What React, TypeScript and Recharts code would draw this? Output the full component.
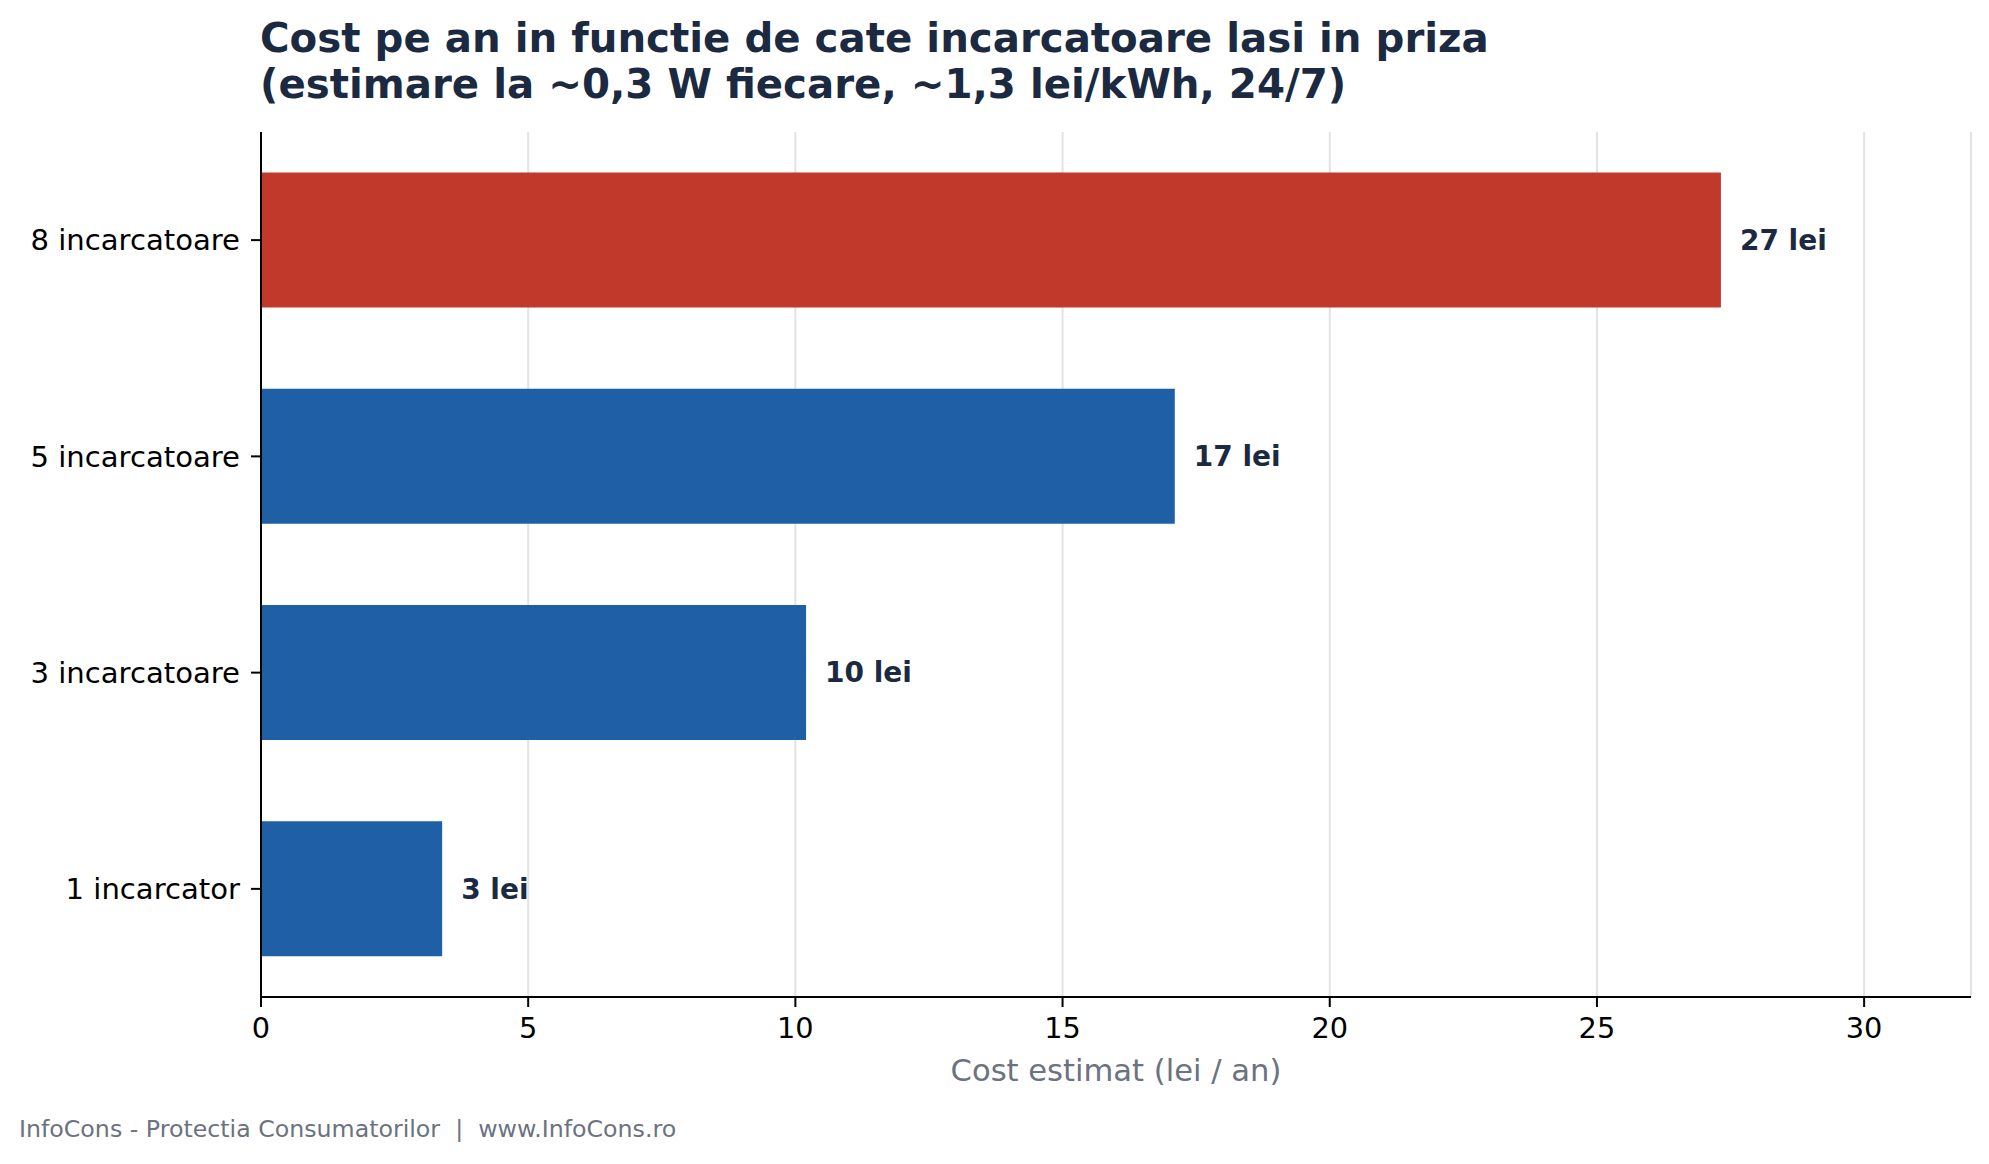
import { BarChart, Bar, XAxis, YAxis, CartesianGrid, Cell, LabelList } from 'recharts';

const categories = ['1 incarcator', '3 incarcatoare', '5 incarcatoare', '8 incarcatoare'];
const costs = [3.39, 10.2, 17.1, 27.32];
const xTicks = [0, 5, 10, 15, 20, 25, 30];
const highlighted = '8 incarcatoare';

const titleLines = [
  'Cost pe an in functie de cate incarcatoare lasi in priza',
  '(estimare la ~0,3 W fiecare, ~1,3 lei/kWh, 24/7)',
];
const xLabel = 'Cost estimat (lei / an)';
const footer = 'InfoCons - Protectia Consumatorilor  |  www.InfoCons.ro';

const rows = categories.map((name, i) => ({ name, cost: costs[i] }));

const NAVY = '#1b2a41';
const GRAY = '#6b7280';
const BLUE = '#1f5fa6';
const RED = '#c0392b';

export default function App() {
  return (
    <div
      style={{
        position: 'absolute',
        left: 0,
        top: 0,
        width: 1989,
        height: 1164,
        background: '#fff',
        fontFamily: '"DejaVu Sans", sans-serif',
      }}
    >
      <BarChart
        width={1989}
        height={1164}
        data={rows}
        layout="vertical"
        margin={{ top: 132, right: 18, bottom: 77, left: 0 }}
        barCategoryGap="18.75%"
      >
        <CartesianGrid horizontal={false} stroke="#e3e3e3" strokeWidth={2} />
        <XAxis
          type="number"
          domain={[0, 32]}
          ticks={xTicks}
          allowDataOverflow
          height={90}
          tickSize={10}
          tickMargin={11}
          tick={{ fill: '#000', fontSize: 28.8 }}
          axisLine={{ stroke: '#000', strokeWidth: 2 }}
          tickLine={{ stroke: '#000', strokeWidth: 2 }}
          label={{ value: xLabel, position: 'insideBottom', offset: 6, fill: GRAY, fontSize: 30.6 }}
        />
        <YAxis
          type="category"
          dataKey="name"
          reversed
          width={261}
          tickSize={10}
          tickMargin={11}
          tick={{ fill: '#000', fontSize: 29.1 }}
          axisLine={{ stroke: '#000', strokeWidth: 2 }}
          tickLine={{ stroke: '#000', strokeWidth: 2 }}
        />
        <Bar dataKey="cost" isAnimationActive={false}>
          {rows.map((r) => (
            <Cell key={r.name} fill={r.name === highlighted ? RED : BLUE} />
          ))}
          <LabelList
            dataKey="cost"
            position="right"
            offset={19}
            formatter={(v: any) => `${Math.round(Number(v))} lei`}
            style={{ fill: NAVY, fontSize: 28, fontWeight: 'bold' }}
          />
        </Bar>
      </BarChart>
      <svg
        width={1989}
        height={1164}
        style={{ position: 'absolute', left: 0, top: 0, pointerEvents: 'none' }}
      >
        <text x={260} y={52} fontSize={40.3} fontWeight="bold" fill={NAVY}>
          {titleLines[0]}
        </text>
        <text x={260} y={98} fontSize={40.3} fontWeight="bold" fill={NAVY}>
          {titleLines[1]}
        </text>
        <text x={19} y={1137} fontSize={23.7} fill={GRAY} style={{ whiteSpace: 'pre' }}>
          {footer}
        </text>
      </svg>
    </div>
  );
}
